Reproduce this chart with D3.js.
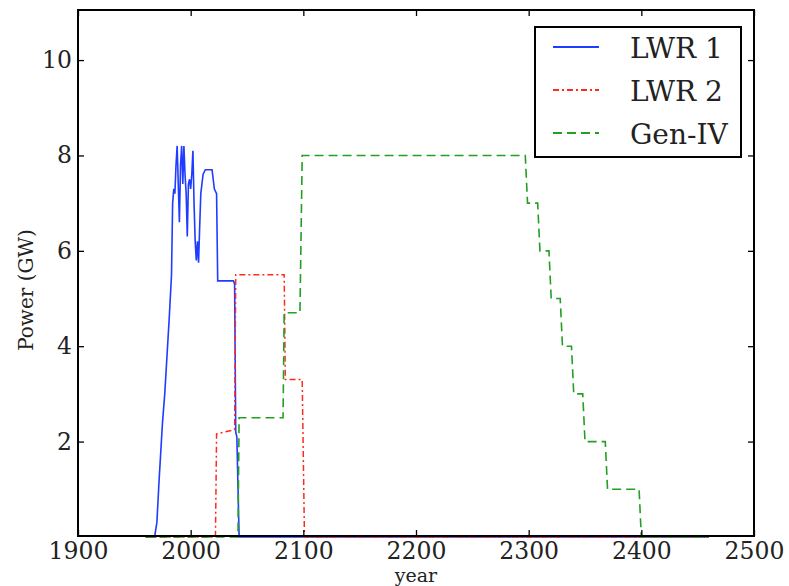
<!DOCTYPE html>
<html>
<head>
<meta charset="utf-8">
<script src="https://cdn.jsdelivr.net/npm/d3@7"></script>
<style>
  body { margin: 0; background: #fff; }
  text { font-family: "DejaVu Serif", serif; fill: #222; }
</style>
</head>
<body>
<div id="chart"></div>
<script>
// year / GW pairs
const lwr1 = [
  [1960, 0], [1968, 0], [1970, 0.3], [1972, 1.2], [1974, 2.0], [1975, 2.4], [1977, 3.0],
  [1979, 3.8], [1981, 4.6], [1983, 5.5], [1984, 7.0], [1985, 7.3], [1986, 7.2], [1987, 7.8],
  [1988, 8.2], [1989, 7.4], [1990, 6.6], [1991, 7.8], [1992, 8.2], [1993, 7.4], [1994, 8.2],
  [1995, 7.6], [1996, 7.2], [1997, 6.3], [1998, 7.4], [1999, 7.5], [2000, 7.3], [2001, 7.6],
  [2002, 8.1], [2003, 7.0], [2004, 6.2], [2005, 5.8], [2006, 6.2], [2007, 5.75], [2008, 6.5],
  [2009, 7.2], [2011, 7.6], [2013, 7.7], [2019, 7.7], [2021, 7.3], [2023, 7.2], [2024, 5.37],
  [2038, 5.37], [2039, 5.3], [2040, 2.2], [2041, 2.1], [2043, 0], [2460, 0]
];
const lwr2 = [
  [1960, 0], [2022, 0], [2023, 2.16], [2039, 2.25], [2040, 5.5], [2083, 5.5], [2084, 3.3],
  [2099, 3.3], [2101, 0], [2460, 0]
];
const genIV = [
  [1960, 0], [2042, 0], [2043, 2.5], [2082, 2.5], [2083, 4.7], [2097, 4.7], [2099, 8.0],
  [2297, 8.0], [2299, 7.0], [2308, 7.0], [2310, 6.0], [2318, 6.0], [2320, 5.0], [2328, 5.0],
  [2330, 4.0], [2338, 4.0], [2340, 3.0], [2348, 3.0], [2350, 2.0], [2368, 2.0], [2370, 1.0],
  [2398, 1.0], [2400, 0], [2460, 0]
];
const seriesNames = ["LWR 1", "LWR 2", "Gen-IV"];
const xTicks = [1900, 2000, 2100, 2200, 2300, 2400, 2500];
const yTicks = [2, 4, 6, 8, 10];

const w = 789, h = 586, margin = {top: 10, right: 35, bottom: 50, left: 78};
const svg = d3.select("#chart").append("svg").attr("width", w).attr("height", h);

const x = d3.scaleLinear().domain([1900, 2500]).range([margin.left, w - margin.right]);
const y = d3.scaleLinear().domain([0.02, 11.05]).range([h - margin.bottom, margin.top]);

const styles = [
  {color: "#1f3cff", dash: null, width: 1.6},
  {color: "#ff2a1a", dash: "6,3,2,3", width: 1.5},
  {color: "#22a022", dash: "9,5", width: 1.6}
];
const line = d3.line().x(d => x(d[0])).y(d => y(d[1]));

[lwr1, lwr2, genIV].forEach((s, i) => {
  svg.append("path").datum(s)
    .attr("d", line)
    .attr("fill", "none")
    .attr("stroke", styles[i].color)
    .attr("stroke-width", styles[i].width)
    .attr("stroke-dasharray", styles[i].dash);
});

// axes with inward ticks on all four sides
const x0 = margin.left, x1 = w - margin.right, y0 = h - margin.bottom, y1 = margin.top;
svg.append("g").attr("transform", `translate(0,${y0})`)
  .call(d3.axisBottom(x).tickValues(xTicks).tickSizeInner(-6).tickSizeOuter(0).tickPadding(6).tickFormat(d3.format("d")));
svg.append("g").attr("transform", `translate(0,${y1})`)
  .call(d3.axisTop(x).tickValues(xTicks).tickSizeInner(-6).tickSizeOuter(0).tickFormat(""));
svg.append("g").attr("transform", `translate(${x0},0)`)
  .call(d3.axisLeft(y).tickValues(yTicks).tickSizeInner(-6).tickSizeOuter(0).tickPadding(6));
svg.append("g").attr("transform", `translate(${x1},0)`)
  .call(d3.axisRight(y).tickValues(yTicks).tickSizeInner(-6).tickSizeOuter(0).tickFormat(""));

svg.selectAll(".domain").remove();
svg.selectAll(".tick line").attr("stroke", "#000").attr("stroke-width", 1.3);
svg.selectAll(".tick text").style("font-size", "23.5px").style("font-family", "DejaVu Serif").attr("fill", "#222");

svg.append("rect").attr("x", x0).attr("y", y1).attr("width", x1 - x0).attr("height", y0 - y1)
  .attr("fill", "none").attr("stroke", "#000").attr("stroke-width", 2);

svg.append("text").attr("x", (x0 + x1) / 2).attr("y", 582).attr("text-anchor", "middle")
  .style("font-size", "19px").text("year");
svg.append("text").attr("transform", "translate(33,290) rotate(-90)")
  .attr("text-anchor", "middle").style("font-size", "20px").text("Power (GW)");

// legend
const lg = svg.append("g").attr("transform", "translate(535,27)");
lg.append("rect").attr("width", 206).attr("height", 130).attr("fill", "#fff")
  .attr("stroke", "#000").attr("stroke-width", 2);
seriesNames.forEach((name, i) => {
  const ly = 20 + i * 43;
  lg.append("line").attr("x1", 18).attr("x2", 64).attr("y1", ly).attr("y2", ly)
    .attr("stroke", styles[i].color).attr("stroke-width", styles[i].width + 0.4)
    .attr("stroke-dasharray", styles[i].dash);
  lg.append("text").attr("x", 95).attr("y", ly + 11).style("font-size", "28px").text(name);
});
</script>
</body>
</html>
